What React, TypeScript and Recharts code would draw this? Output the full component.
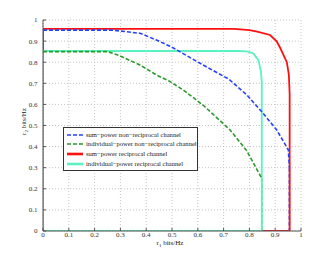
import React from 'react';
import { LineChart, Line, XAxis, YAxis, CartesianGrid, Legend } from 'recharts';

const ticks = [0, 0.1, 0.2, 0.3, 0.4, 0.5, 0.6, 0.7, 0.8, 0.9, 1];
const tickLabels = ['0', '0.1', '0.2', '0.3', '0.4', '0.5', '0.6', '0.7', '0.8', '0.9', '1'];

const seriesNames = [
  'sum\u2212power non\u2212reciprocal channel',
  'individual\u2212power non\u2212reciprocal channel',
  'sum\u2212power reciprocal channel',
  'individual\u2212power reciprocal channel',
];

// sum-power non-reciprocal (blue dashed)
const sumNonRecX = [0, 0.27, 0.376, 0.44, 0.5, 0.62, 0.72, 0.79, 0.848, 0.906, 0.951, 0.955];
const sumNonRecY = [0.952, 0.952, 0.937, 0.905, 0.871, 0.787, 0.72, 0.645, 0.565, 0.479, 0.384, 0.3];
const sumNonRecTailX = [0.955, 0.955];
const sumNonRecTailY = [0.3, 0];

// individual-power non-reciprocal (green dashed)
const indNonRecX = [0, 0.25, 0.29, 0.376, 0.44, 0.49, 0.544, 0.62, 0.725, 0.79, 0.841, 0.848];
const indNonRecY = [0.85, 0.85, 0.834, 0.787, 0.739, 0.71, 0.668, 0.597, 0.479, 0.38, 0.265, 0.25];
const indNonRecTailX = [0.848, 0.848];
const indNonRecTailY = [0.25, 0];

// sum-power reciprocal (red)
const sumRecX = [0, 0, 0.74, 0.8, 0.83, 0.88, 0.905, 0.92, 0.945, 0.953, 0.956, 0.956, 0];
const sumRecY = [0, 0.958, 0.958, 0.952, 0.945, 0.929, 0.9, 0.866, 0.8, 0.74, 0.65, 0, 0];

// individual-power reciprocal (cyan)
const indRecX = [0, 0, 0.757, 0.79, 0.815, 0.835, 0.845, 0.848, 0.848, 0];
const indRecY = [0, 0.853, 0.853, 0.851, 0.842, 0.81, 0.755, 0.7, 0, 0];

const zip = (xs: number[], ys: number[]) => xs.map((x, i) => ({ x, y: ys[i] }));

const blueData = zip(sumNonRecX, sumNonRecY);
const blueTail = zip(sumNonRecTailX, sumNonRecTailY);
const greenData = zip(indNonRecX, indNonRecY);
const greenTail = zip(indNonRecTailX, indNonRecTailY);
const redData = zip(sumRecX, sumRecY);
const cyanData = zip(indRecX, indRecY);

const BLUE = '#2442ff';
const GREEN = '#2a9a2a';
const RED = '#ff1010';
const CYAN = '#5cf2bf';
const FONT = '"Liberation Serif", "DejaVu Serif", serif';

const fmt = (v: number) => {
  const i = ticks.findIndex((t) => Math.abs(t - v) < 1e-9);
  return i >= 0 ? tickLabels[i] : String(v);
};

const legendItems = [
  { name: seriesNames[0], color: BLUE, dash: '4 2', w: 1.6 },
  { name: seriesNames[1], color: GREEN, dash: '4 2', w: 1.6 },
  { name: seriesNames[2], color: RED, dash: undefined, w: 2.6 },
  { name: seriesNames[3], color: CYAN, dash: undefined, w: 2.6 },
];

const LegendBox = () => (
  <div
    style={{
      border: '1px solid #333',
      background: '#fff',
      width: 133,
      padding: '2px 0',
      fontFamily: FONT,
      fontSize: 6.6,
      color: '#222',
      boxSizing: 'content-box',
      overflow: 'hidden',
    }}
  >
    {legendItems.map((it) => (
      <div key={it.name} style={{ display: 'flex', alignItems: 'center', height: 9.6, whiteSpace: 'nowrap' }}>
        <svg width={22} height={8} style={{ flex: 'none' }}>
          <line x1={3} x2={19} y1={4} y2={4} stroke={it.color} strokeWidth={it.w} strokeDasharray={it.dash} />
        </svg>
        <span style={{ lineHeight: '8px' }}>{it.name}</span>
      </div>
    ))}
  </div>
);

const XLabel = (props: any) => {
  const vb = props.viewBox || {};
  const cx = vb.x + vb.width / 2 - 2;
  const y = vb.y + 14;
  return (
    <text x={cx} y={y} textAnchor="middle" fontFamily={FONT} fontSize={7} fill="#222">
      r<tspan fontSize={5} dy={2}>1</tspan>
      <tspan dy={-2}> bits/Hz</tspan>
    </text>
  );
};

const YLabel = (props: any) => {
  const vb = props.viewBox || {};
  const cx = 18;
  const cy = vb.y + vb.height / 2 - 4;
  return (
    <text
      x={cx}
      y={cy}
      transform={`rotate(-90 ${cx} ${cy})`}
      textAnchor="middle"
      fontFamily={FONT}
      fontSize={7}
      fill="#222"
    >
      r<tspan fontSize={5} dy={2}>2</tspan>
      <tspan dy={-2}> bits/Hz</tspan>
    </text>
  );
};

const tickStyle = { fontFamily: FONT, fontSize: 7, fill: '#333' };
const AXIS = '#555';

export default function App() {
  return (
    <LineChart width={324} height={244} margin={{ top: 12, right: 31, bottom: 5, left: 0 }}>
      <CartesianGrid stroke="#c4c4c4" strokeDasharray="1 2" />
      <XAxis
        dataKey="x"
        type="number"
        domain={[0, 1]}
        ticks={ticks}
        interval={0}
        tickFormatter={fmt}
        allowDataOverflow
        height={16}
        tickSize={-3}
        tickMargin={4}
        tick={tickStyle}
        stroke={AXIS}
        label={<XLabel />}
      />
      <XAxis
        xAxisId="top"
        orientation="top"
        type="number"
        domain={[0, 1]}
        ticks={ticks}
        interval={0}
        height={0}
        tickSize={-3}
        tick={() => <g />}
        stroke={AXIS}
      />
      <YAxis
        dataKey="y"
        type="number"
        domain={[0, 1]}
        ticks={ticks}
        interval={0}
        tickFormatter={fmt}
        allowDataOverflow
        width={35}
        tickSize={-3}
        tickMargin={8.5}
        tick={tickStyle}
        stroke={AXIS}
        label={<YLabel />}
      />
      <YAxis
        yAxisId="right"
        orientation="right"
        type="number"
        domain={[0, 1]}
        ticks={ticks}
        interval={0}
        width={0}
        tickSize={-3}
        tick={() => <g />}
        stroke={AXIS}
      />
      <Legend
        layout="horizontal"
        verticalAlign="middle"
        align="center"
        wrapperStyle={{ position: 'absolute', left: 55, top: 119, width: 'auto', height: 'auto' }}
        content={() => <LegendBox />}
      />
      <Line data={blueTail} dataKey="y" type="linear" stroke={BLUE} strokeWidth={1.6} strokeDasharray="4 2" dot={false} isAnimationActive={false} legendType="none" />
      <Line data={greenTail} dataKey="y" type="linear" stroke={GREEN} strokeWidth={1.6} strokeDasharray="4 2" dot={false} isAnimationActive={false} legendType="none" />
      <Line data={redData} name={seriesNames[2]} dataKey="y" type="linear" stroke={RED} strokeWidth={1.8} dot={false} isAnimationActive={false} />
      <Line data={cyanData} name={seriesNames[3]} dataKey="y" type="linear" stroke={CYAN} strokeWidth={1.8} dot={false} isAnimationActive={false} />
      <Line data={blueData} name={seriesNames[0]} dataKey="y" type="linear" stroke={BLUE} strokeWidth={1.6} strokeDasharray="4 2" dot={false} isAnimationActive={false} />
      <Line data={greenData} name={seriesNames[1]} dataKey="y" type="linear" stroke={GREEN} strokeWidth={1.6} strokeDasharray="4 2" dot={false} isAnimationActive={false} />
    </LineChart>
  );
}
